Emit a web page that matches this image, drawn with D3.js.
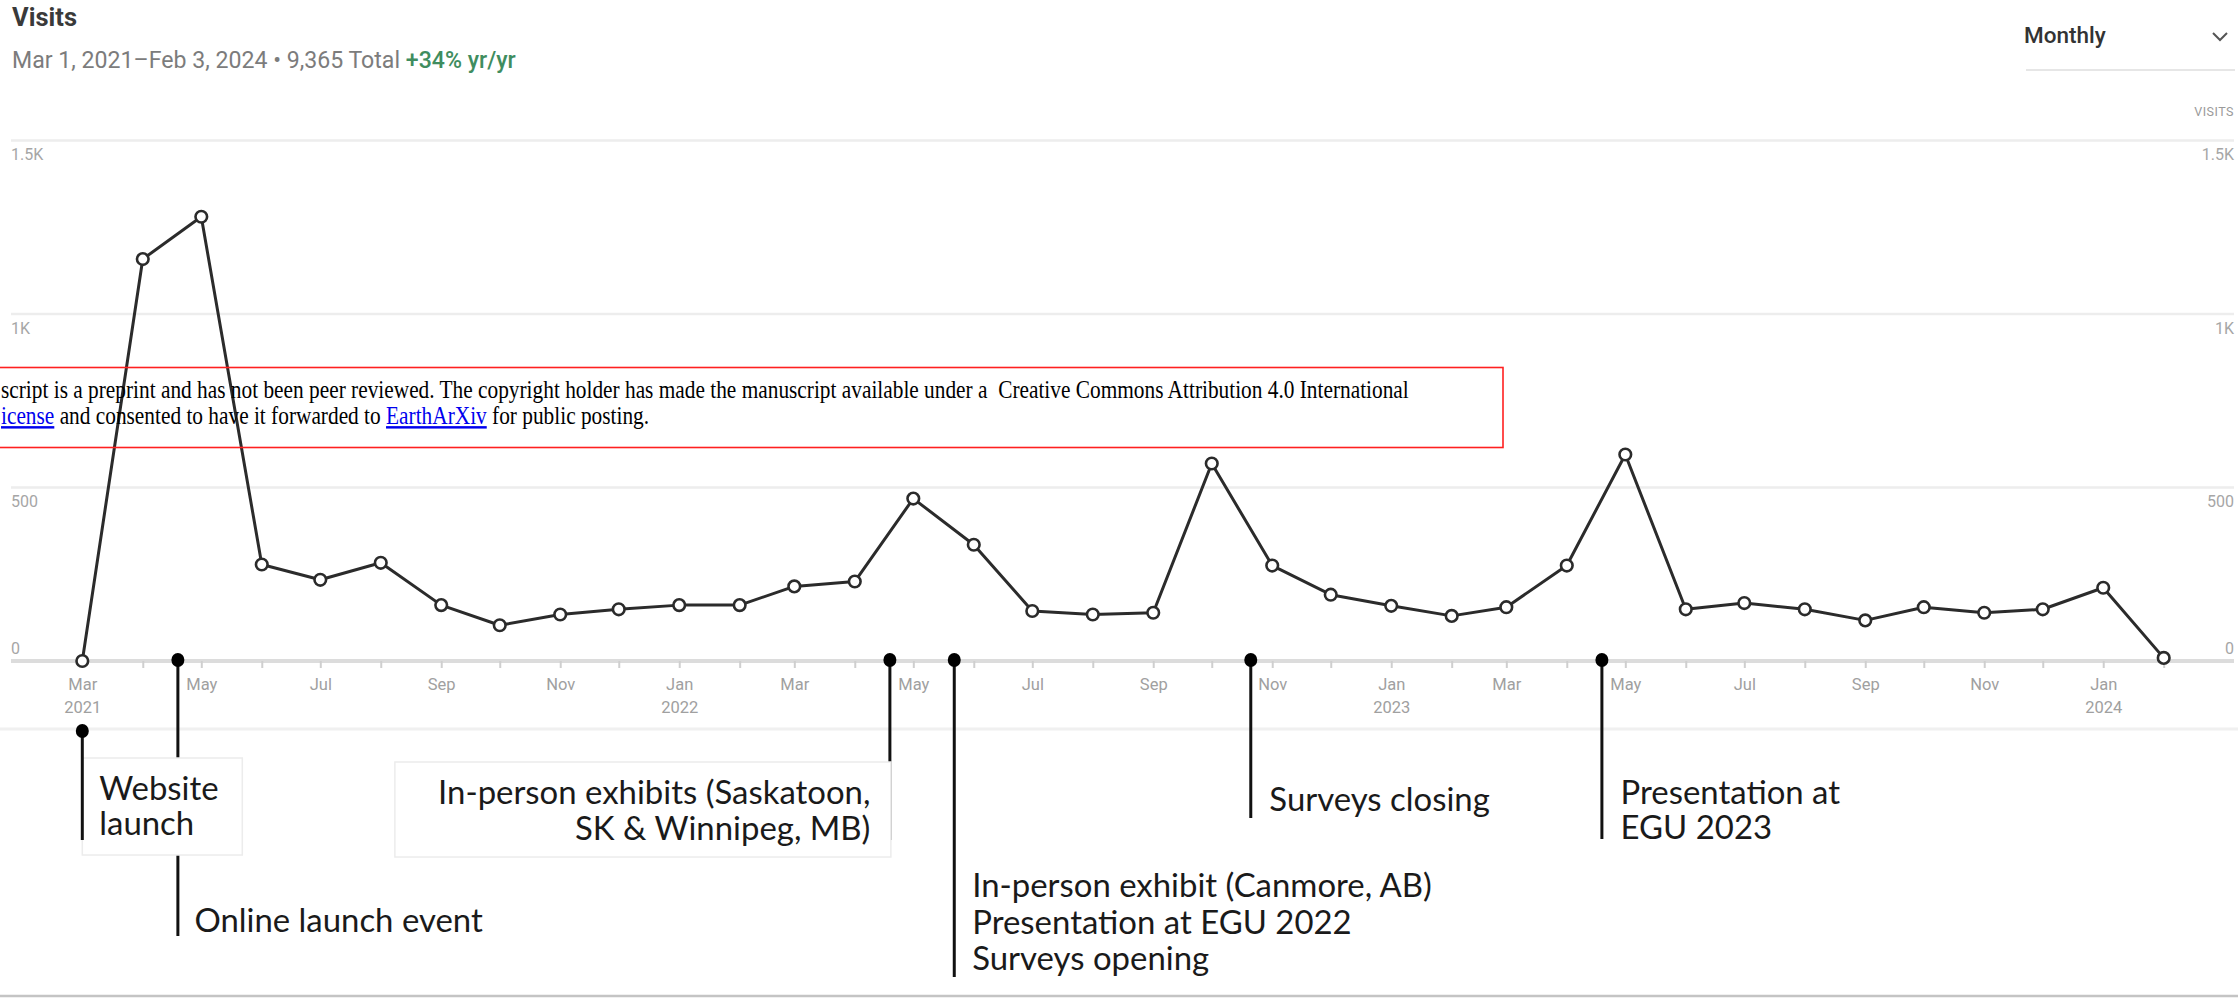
<!DOCTYPE html>
<html><head><meta charset="utf-8">
<script src="https://cdn.jsdelivr.net/npm/d3@7"></script>
<style>
html,body{margin:0;padding:0;background:#fff;overflow:hidden}
svg{display:block}
</style></head><body>
<svg id="c" width="2238" height="998"></svg>
<script>
// ---------- DATA ----------
const months = ["2021-03","2021-04","2021-05","2021-06","2021-07","2021-08","2021-09","2021-10","2021-11","2021-12",
  "2022-01","2022-02","2022-03","2022-04","2022-05","2022-06","2022-07","2022-08","2022-09","2022-10","2022-11","2022-12",
  "2023-01","2023-02","2023-03","2023-04","2023-05","2023-06","2023-07","2023-08","2023-09","2023-10","2023-11","2023-12",
  "2024-01","2024-02"];
const visits = [0,1158,1280,278,234,283,161,103,134,149,
  161,161,215,229,468,335,144,134,139,569,275,191,
  159,130,155,275,595,149,167,149,117,155,139,149,
  211,9];
const yTicks = [0,500,1000,1500];
const yTickLabels = ["0","500","1K","1.5K"];
const eventDates = ["2021-03-01","2021-04-19","2022-04-19","2022-05-22","2022-10-21","2023-04-19"];
const eventLabels = [
  ["Website","launch"],
  ["Online launch event"],
  ["In-person exhibits (Saskatoon,","SK & Winnipeg, MB)"],
  ["In-person exhibit (Canmore, AB)","Presentation at EGU 2022","Surveys opening"],
  ["Surveys closing"],
  ["Presentation at","EGU 2023"]
];
const titleText = "Visits";
const subtitleText = "Mar 1, 2021\u2013Feb 3, 2024 \u2022 9,365 Total ";
const growthText = "+34% yr/yr";
const periodText = "Monthly";
const seriesName = "VISITS";
const noticeLine1 = "script is a preprint and has not been peer reviewed. The copyright holder has made the manuscript available under a  Creative Commons Attribution 4.0 International";
const noticeLine2 = [["icense",true],[" and consented to have it forwarded to ",false],["EarthArXiv",true],[" for public posting.",false]];

// ---------- LAYOUT ----------
const W = 2238, H = 998;
const gridLeft = 11, gridRight = 2234;
const evLayout = [
  {dotY:731, lineTop:731, lineBottom:840, dx:17, anchor:"start", ys:[788,823], box:[0,758,160,855]},
  {dotY:660, lineTop:660, lineBottom:936, dx:16.5, anchor:"start", ys:[920]},
  {dotY:660, lineTop:660, lineBottom:840, dx:-19.5, anchor:"end", ys:[792,828], box:[-495,762,1,857]},
  {dotY:660, lineTop:660, lineBottom:977, dx:18, anchor:"start", ys:[885,922,958]},
  {dotY:660, lineTop:660, lineBottom:818, dx:18.6, anchor:"start", ys:[799]},
  {dotY:660, lineTop:660, lineBottom:839, dx:18.7, anchor:"start", ys:[792,827]}
];

const svg = d3.select("#c");
const parseM = d3.timeParse("%Y-%m");
const parseD = d3.timeParse("%Y-%m-%d");
const dates = months.map(parseM);
const data = dates.map((d,i)=>({d, v:visits[i]}));

const x = d3.scaleTime().domain([dates[0], dates[dates.length-1]]).range([82.3, 2163.7]);
const y = d3.scaleLinear().domain([0,1500]).range([661,140.4]);

function measure(txt, family, size, weight){
  const t = svg.append("text").attr("font-family",family).attr("font-size",size)
    .attr("font-weight",weight||"normal").style("white-space","pre").text(txt);
  const w = t.node().getComputedTextLength(); t.remove(); return w;
}
const uiFont = "Roboto, 'Noto Sans', sans-serif";
const annFont = "Lato, 'Noto Sans', sans-serif";
const serif = "'Liberation Serif', 'Times New Roman', serif";

// ---------- HEADER ----------
const subSize = 20 * 503 / measure(subtitleText + growthText, uiFont, 20);
svg.append("text").attr("x",12).attr("y",26).attr("font-family",uiFont).attr("font-weight","bold")
  .attr("font-size",25.5).attr("fill","#3a3a3a").text(titleText);
const sub = svg.append("text").attr("x",12).attr("y",68).attr("font-family",uiFont)
  .attr("font-size",subSize).attr("fill","#7c7c7c").style("white-space","pre");
sub.append("tspan").text(subtitleText);
sub.append("tspan").attr("fill","#3f8d5f").attr("font-weight",500).text(growthText);

svg.append("text").attr("x",2024).attr("y",43).attr("font-family",uiFont).attr("font-weight",500)
  .attr("font-size",22.5).attr("fill","#333").text(periodText);
svg.append("path").attr("d","M2213,33 L2220,40 L2227,33").attr("fill","none").attr("stroke","#555").attr("stroke-width",2);
svg.append("line").attr("x1",2026).attr("x2",2235).attr("y1",70).attr("y2",70).attr("stroke","#e6e6e6").attr("stroke-width",2);
svg.append("text").attr("x",2234).attr("y",116).attr("text-anchor","end").attr("font-family",uiFont)
  .attr("font-size",12.5).attr("letter-spacing",0.5).attr("fill","#9a9a9a").text(seriesName);

// ---------- GRID ----------
const g = svg.append("g");
g.selectAll("line.grid").data(yTicks.filter(t=>t>0)).join("line").attr("class","grid")
  .attr("x1",gridLeft).attr("x2",gridRight).attr("y1",d=>y(d)).attr("y2",d=>y(d))
  .attr("stroke","#ededed").attr("stroke-width",2.5);
yTicks.forEach((t,i)=>{
  const ly = t===0 ? y(t)-13 : y(t)+14;
  [[gridLeft,"start"],[gridRight,"end"]].forEach(([lx,anc])=>{
    g.append("text").attr("x",lx).attr("y",ly).attr("dy","0.35em").attr("text-anchor",anc)
      .attr("font-family",uiFont).attr("font-size",16).attr("fill","#a6a6a6").text(yTickLabels[i]);
  });
});

svg.append("line").attr("x1",0).attr("x2",W).attr("y1",729).attr("y2",729).attr("stroke","#f0f0f0").attr("stroke-width",3);
svg.append("line").attr("x1",0).attr("x2",W).attr("y1",996).attr("y2",996).attr("stroke","#c4c4c4").attr("stroke-width",2.5);

// ---------- X AXIS ----------
svg.append("line").attr("x1",gridLeft).attr("x2",gridRight).attr("y1",y(0)).attr("y2",y(0))
  .attr("stroke","#dcdcdc").attr("stroke-width",4);
const xAxis = d3.axisBottom(x).ticks(d3.timeMonth.every(1)).tickSize(7).tickPadding(10)
  .tickFormat(d => d.getMonth()%2===0 ? d3.timeFormat("%b")(d) : "");
const ax = svg.append("g").attr("transform",`translate(0,${y(0)})`).call(xAxis);
ax.select(".domain").remove();
ax.selectAll(".tick line").attr("stroke","#cfcfcf").attr("stroke-width",2);
ax.selectAll(".tick text").attr("font-family",uiFont).attr("font-size",16.5).attr("fill","#a0a0a0")
  .each(function(d,i){
    if (d.getMonth()===0 || i===0) {
      d3.select(this).append("tspan").attr("x",0).attr("dy","1.4em").text(d3.timeFormat("%Y")(d));
    }
  });

// ---------- SERIES ----------
const line = d3.line().x(d=>x(d.d)).y(d=>y(d.v));
svg.append("path").datum(data).attr("d",line).attr("fill","none").attr("stroke","#2b2b2b")
  .attr("stroke-width",3).attr("stroke-linejoin","round");
svg.selectAll("circle.pt").data(data).join("circle").attr("class","pt")
  .attr("cx",d=>x(d.d)).attr("cy",d=>y(d.v)).attr("r",5.8)
  .attr("fill","#fff").attr("stroke","#2b2b2b").attr("stroke-width",2.6);

// ---------- EVENTS ----------
const targets = [["Online launch event",290],["In-person exhibit (Canmore, AB)",466],["Surveys closing",219],["Presentation at",217]];
let ratio = d3.mean(targets, ([t,w]) => w / measure(t, annFont, 28));
const annSize = 28 * ratio;

const evG = svg.append("g");
const order = [1,0,2,3,4,5];
order.forEach(i=>{
  const ex = x(parseD(eventDates[i])), L = evLayout[i];
  if (i!==0) evG.append("line").attr("x1",ex).attr("x2",ex).attr("y1",L.lineTop).attr("y2",L.lineBottom)
    .attr("stroke","#111").attr("stroke-width",3);
});
eventDates.forEach((dt,i)=>{
  const ex = x(parseD(dt)), L = evLayout[i];
  if (L.box) evG.append("rect").attr("x",ex+L.box[0]).attr("y",L.box[1])
    .attr("width",L.box[2]-L.box[0]).attr("height",L.box[3]-L.box[1])
    .attr("fill","#fff").attr("stroke","#ececec").attr("stroke-width",1.5);
});
eventDates.forEach((dt,i)=>{
  const ex = x(parseD(dt)), L = evLayout[i];
  if (i===0) evG.append("line").attr("x1",ex).attr("x2",ex).attr("y1",L.lineTop).attr("y2",L.lineBottom)
    .attr("stroke","#111").attr("stroke-width",3);
  evG.append("ellipse").attr("cx",ex).attr("cy",L.dotY).attr("rx",6.5).attr("ry",7).attr("fill","#000");
  eventLabels[i].forEach((txt,k)=>{
    evG.append("text").attr("x",ex+L.dx).attr("y",L.ys[k]).attr("dy","0.36em")
      .attr("text-anchor",L.anchor).attr("font-family",annFont).attr("font-size",annSize)
      .attr("fill","#1a1a1a").text(txt);
  });
});

// ---------- NOTICE OVERLAY ----------
const nSize = 24.5;
const sx = 1408 / measure(noticeLine1, serif, nSize);
svg.append("rect").attr("x",-2).attr("y",367.5).attr("width",1505).attr("height",80)
  .attr("fill","none").attr("stroke","#ff2020").attr("stroke-width",1.6);
const nG = svg.append("g").attr("transform",`translate(1,0) scale(${sx},1)`);
nG.append("text").attr("x",0).attr("y",398).attr("font-family",serif).attr("font-size",nSize)
  .attr("fill","#000").style("white-space","pre").text(noticeLine1);
const n2 = nG.append("text").attr("x",0).attr("y",424).attr("font-family",serif).attr("font-size",nSize)
  .attr("fill","#000").style("white-space","pre");
noticeLine2.forEach(([t,link])=>{
  const ts = n2.append("tspan").text(t);
  if (link) ts.attr("fill","#0000ee").attr("text-decoration","underline");
});
</script>
</body></html>
